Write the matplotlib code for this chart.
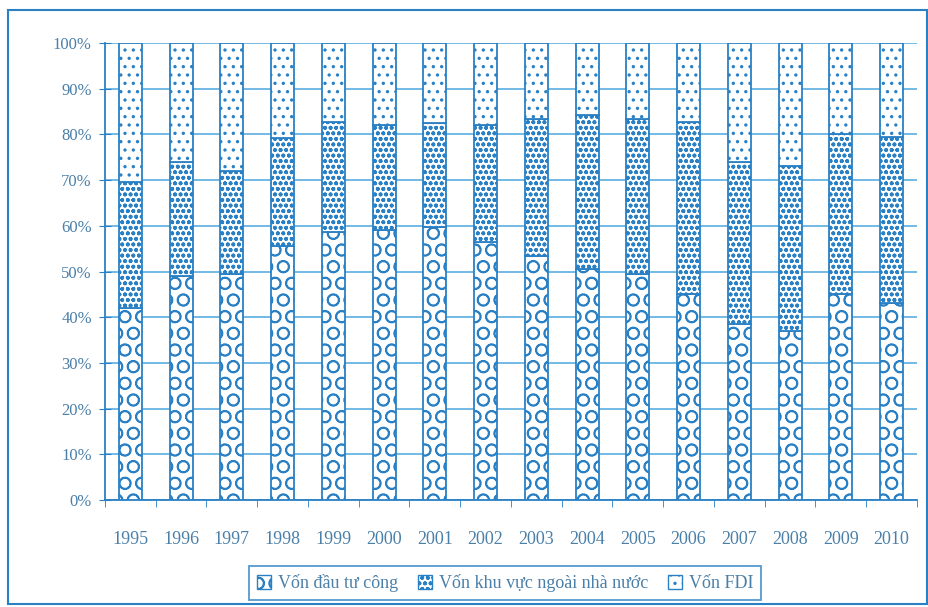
import matplotlib
matplotlib.use("Agg")
import matplotlib.pyplot as plt
from matplotlib.patches import Rectangle, Patch
import numpy as np

years = ["1995", "1996", "1997", "1998", "1999", "2000", "2001", "2002",
         "2003", "2004", "2005", "2006", "2007", "2008", "2009", "2010"]
von_cong = [42.0, 49.1, 49.4, 55.5, 58.7, 59.1, 59.8, 56.5,
            53.5, 50.5, 49.5, 45.0, 38.5, 37.0, 45.0, 43.0]
von_ngoai = [27.6, 24.9, 22.6, 23.7, 24.0, 22.9, 22.6, 25.5,
             29.8, 33.7, 33.8, 37.8, 35.5, 36.0, 35.0, 36.5]
von_fdi = [100 - a - b for a, b in zip(von_cong, von_ngoai)]
labels = ["Vốn đầu tư công", "Vốn khu vực ngoài nhà nước", "Vốn FDI"]
yticks = [0, 10, 20, 30, 40, 50, 60, 70, 80, 90, 100]

ink = "#2a80c4"
txt = "#4a7fa8"
plt.rcParams['font.family'] = ['Liberation Serif', 'DejaVu Serif']
plt.rcParams['hatch.linewidth'] = 1.2

fig = plt.figure(figsize=(9.29, 6.07), dpi=100)
W, H = 929, 607
ax = fig.add_axes([105 / W, 1 - 500 / H, (917 - 105) / W, (500 - 43) / H])

x = np.arange(len(years))
w = 0.45
h1, h2, h3 = "O", "ooo", ".."
ax.bar(x, von_cong, w, color="white", edgecolor=ink, hatch=h1, linewidth=1.3, zorder=3)
ax.bar(x, von_ngoai, w, bottom=von_cong, color="white", edgecolor=ink, hatch=h2, linewidth=1.3, zorder=3)
ax.bar(x, von_fdi, w, bottom=np.array(von_cong) + np.array(von_ngoai), color="white",
       edgecolor=ink, hatch=h3, linewidth=1.3, zorder=3)

ax.set_xlim(-0.5, 15.5)
ax.set_ylim(0, 100)
ax.set_yticks(yticks)
ax.set_yticklabels([f"{v}%" for v in yticks], fontsize=12, color=txt)
ax.set_xticks(x)
ax.set_xticklabels(years, fontsize=13, color=txt)
ax.set_xticks(np.arange(-0.5, 16, 1), minor=True)
ax.tick_params(axis="x", which="major", length=0, pad=22)
ax.tick_params(axis="x", which="minor", length=5, color=ink, direction="out")
ax.tick_params(axis="y", length=9, color=ink, direction="inout", pad=5)
ax.grid(axis="y", color="#5aaee0", linewidth=1.2, zorder=0)
for s in ["top", "right"]:
    ax.spines[s].set_visible(False)
for s in ["left", "bottom"]:
    ax.spines[s].set_color(ink)
    ax.spines[s].set_linewidth(1.3)

# outer frame
frame = Rectangle((8 / W, 1 - 604 / H), (927 - 8) / W, (604 - 10) / H, transform=fig.transFigure,
                  fill=False, edgecolor=ink, linewidth=1.5)
fig.patches.append(frame)

handles = [Patch(facecolor="white", edgecolor=ink, hatch=h1),
           Patch(facecolor="white", edgecolor=ink, hatch=h2),
           Patch(facecolor="white", edgecolor=ink, hatch=h3)]
leg = fig.legend(handles, labels, loc="center", bbox_to_anchor=(505 / W, 1 - 583 / H), ncol=3,
                 fontsize=13, frameon=True, fancybox=False, handlelength=0.8, handleheight=0.8,
                 handletextpad=0.35, columnspacing=1.1, borderpad=0.45, edgecolor=ink)
leg.get_frame().set_linewidth(1.3)
for t in leg.get_texts():
    t.set_color(txt)

fig.savefig("out.png", dpi=100)
